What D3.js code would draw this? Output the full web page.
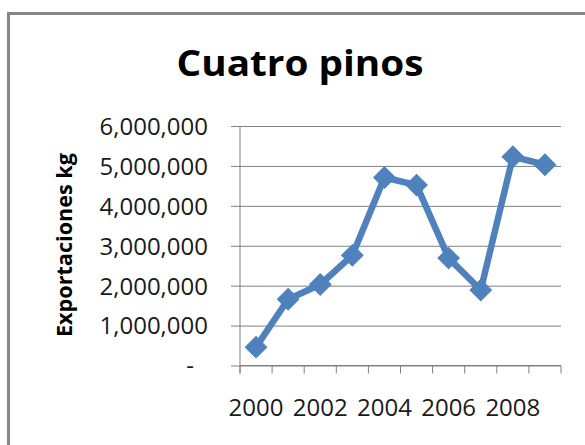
<!DOCTYPE html>
<html>
<head>
<meta charset="utf-8">
<script src="https://cdn.jsdelivr.net/npm/d3@7"></script>
<style>
  html, body { margin: 0; padding: 0; background: #fff; }
  svg { display: block; }
</style>
</head>
<body>
<svg id="chart" width="585" height="445"></svg>
<script>
// Exportaciones anuales de Cuatro pinos (kg)
const years = ["2000","2001","2002","2003","2004","2005","2006","2007","2008","2009"];
const exportsKg = [460000, 1660000, 2030000, 2760000, 4710000, 4520000, 2690000, 1890000, 5230000, 5030000];
const yTicks = [0, 1000000, 2000000, 3000000, 4000000, 5000000, 6000000];
const xLabelYears = ["2000","2002","2004","2006","2008"];

const titleText = "Cuatro pinos";
const yTitleText = "Exportaciones kg";

const svg = d3.select("#chart");
const blue = "#4F81BD";
const grid = "#808080";
const textColor = "#1a1a1a";

// chart frame (extends past the page edges)
svg.append("rect")
  .attr("x", 8.5).attr("y", 13.5)
  .attr("width", 600).attr("height", 460)
  .attr("fill", "none").attr("stroke", "#878787").attr("stroke-width", 3);

const plot = { left: 240, right: 561, top: 126, bottom: 365.5 };

const x = d3.scaleBand().domain(years).range([plot.left, plot.right]);
const y = d3.scaleLinear().domain([0, 6000000]).range([plot.bottom, plot.top]);

// horizontal gridlines + left tick marks
const yAxis = d3.axisLeft(y)
  .tickValues(yTicks)
  .tickSize(-(plot.right - plot.left))
  .tickSizeOuter(0)
  .tickFormat(d => d === 0 ? "-" : d3.format(",")(d));

const gy = svg.append("g").attr("transform", `translate(${plot.left},0)`).call(yAxis);
gy.select(".domain").remove();
gy.selectAll(".tick line").attr("stroke", grid).attr("x1", -9);
gy.selectAll(".tick text")
  .attr("x", -32)
  .attr("dy", "0.35em")
  .attr("fill", textColor)
  .style("font-family", "'Open Sans', sans-serif")
  .style("font-size", "24px")
  .attr("text-anchor", "end");
gy.selectAll(".tick").filter(d => d === 0).select("text").attr("x", -46);

// vertical axis line
svg.append("line")
  .attr("x1", plot.left).attr("x2", plot.left)
  .attr("y1", plot.top).attr("y2", plot.bottom + 8)
  .attr("stroke", grid);

// category axis: tick marks on category boundaries, labels every other year
const boundaries = years.map(d => x(d)).concat([plot.right]);
const gx = svg.append("g");
gx.append("line")
  .attr("x1", plot.left).attr("x2", plot.right)
  .attr("y1", plot.bottom).attr("y2", plot.bottom)
  .attr("stroke", grid);
gx.selectAll("line.tk").data(boundaries).join("line")
  .attr("class", "tk")
  .attr("x1", d => d).attr("x2", d => d)
  .attr("y1", plot.bottom).attr("y2", plot.bottom + 8)
  .attr("stroke", grid);
gx.selectAll("text").data(xLabelYears).join("text")
  .attr("x", d => x(d) + x.bandwidth() / 2)
  .attr("y", 416)
  .attr("text-anchor", "middle")
  .attr("fill", textColor)
  .style("font-family", "'Open Sans', sans-serif")
  .style("font-size", "24px")
  .text(d => d);

// series line
const pts = years.map((yr, i) => ({ yr, v: exportsKg[i] }));
const line = d3.line()
  .x(d => x(d.yr) + x.bandwidth() / 2)
  .y(d => y(d.v));

svg.append("path")
  .datum(pts)
  .attr("d", line)
  .attr("fill", "none")
  .attr("stroke", blue)
  .attr("stroke-width", 6.5)
  .attr("stroke-linejoin", "round");

// diamond markers
const diamond = d3.symbol().type(d3.symbolSquare).size(230);
svg.selectAll("path.mk").data(pts).join("path")
  .attr("class", "mk")
  .attr("d", diamond)
  .attr("transform", d => `translate(${x(d.yr) + x.bandwidth() / 2},${y(d.v)}) rotate(45)`)
  .attr("fill", blue)
  .attr("stroke", blue)
  .attr("stroke-width", 1);

// title
svg.append("text")
  .attr("x", 300).attr("y", 76)
  .attr("text-anchor", "middle")
  .attr("fill", "#000")
  .style("font-family", "'Open Sans', sans-serif")
  .style("font-weight", "bold")
  .style("font-size", "36px")
  .attr("textLength", 247)
  .attr("lengthAdjust", "spacingAndGlyphs")
  .text(titleText);

// value axis title
svg.append("text")
  .attr("transform", "translate(72,245) rotate(-90)")
  .attr("text-anchor", "middle")
  .attr("fill", "#000")
  .style("font-family", "'Open Sans', sans-serif")
  .style("font-weight", "bold")
  .style("font-size", "22px")
  .attr("textLength", 184)
  .attr("lengthAdjust", "spacingAndGlyphs")
  .text(yTitleText);
</script>
</body>
</html>
